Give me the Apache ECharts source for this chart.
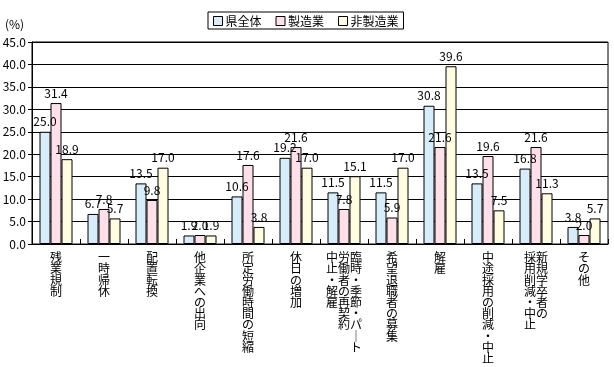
<!DOCTYPE html>
<html><head><meta charset="utf-8">
<script src="https://cdn.jsdelivr.net/npm/echarts@6/dist/echarts.min.js"></script>
<style>html,body{margin:0;padding:0;background:#fff}#c{width:614px;height:367px}</style>
</head><body><div id="c"></div>
<script>
// categories: each entry is a list of vertical columns, read right-to-left
const categories = [
  ["残業規制"],
  ["一時帰休"],
  ["配置転換"],
  ["他企業への出向"],
  ["所定労働時間の短縮"],
  ["休日の増加"],
  ["臨時・季節・パート", "労働者の再契約", "中止・解雇"],
  ["希望退職者の募集"],
  ["解雇"],
  ["中途採用の削減・中止"],
  ["新規学卒者の", "採用削減・中止"],
  ["その他"]
];
const seriesNames = ["県全体", "製造業", "非製造業"];
const kenZentai = [25.0, 6.7, 13.5, 1.9, 10.6, 19.2, 11.5, 11.5, 30.8, 13.5, 16.8, 3.8];
const seizogyo  = [31.4, 7.8, 9.8, 2.0, 17.6, 21.6, 7.8, 5.9, 21.6, 19.6, 21.6, 2.0];
const hiSeizogyo = [18.9, 5.7, 17.0, 1.9, 3.8, 17.0, 15.1, 17.0, 39.6, 7.5, 11.3, 5.7];
const yTicks = { min: 0, max: 45, interval: 5 };

const colors = ["#D7EDF9", "#FFDFE9", "#FFFCE0"];
const FONT = "'Noto Sans CJK JP', sans-serif";

function vertical(cols) {
  const n = Math.max(...cols.map(c => c.length));
  const rev = cols.slice().reverse();
  const lines = [];
  for (let i = 0; i < n; i++) {
    let s = "";
    for (const c of rev) {
      let ch = c[i] || "　";
      if (ch === "ー") ch = "｜";
      s += ch;
    }
    lines.push(s);
  }
  return lines.join("\n");
}
const catKeys = categories.map(c => c.join(""));
const catLabel = {};
categories.forEach(c => { catLabel[c.join("")] = vertical(c); });

const chart = echarts.init(document.getElementById('c'), null, { renderer: 'canvas' });
const data = [kenZentai, seizogyo, hiSeizogyo];
chart.setOption({
  animation: false,
  textStyle: { fontFamily: FONT },
  grid: { left: 32, right: 6, top: 42, bottom: 123, containLabel: false, outerBoundsMode: 'none',
          show: true, borderColor: '#000', borderWidth: 1, backgroundColor: 'transparent' },
  legend: {
    left: 208, top: 12, orient: 'horizontal',
    borderColor: '#000', borderWidth: 1, padding: [3, 5, 2, 5],
    itemWidth: 9, itemHeight: 9, itemGap: 14, icon: 'rect',
    textStyle: { fontSize: 12, color: '#000', fontFamily: FONT, padding: [0, 0, 0, -2] },
    itemStyle: { borderColor: '#000', borderWidth: 1 },
    data: seriesNames
  },
  graphic: [{ type: 'text', left: 5, top: 18, style: { text: '(%)', fontSize: 12, fill: '#000', fontFamily: FONT } }],
  xAxis: {
    type: 'category', data: catKeys,
    axisLine: { lineStyle: { color: '#000', width: 1 } },
    axisTick: { show: true, inside: true, length: 5, lineStyle: { color: '#000' } },
    axisLabel: {
      interval: 0, margin: 8, fontSize: 12, lineHeight: 11.2, color: '#000', fontFamily: FONT,
      verticalAlign: 'top', align: 'center', hideOverlap: false,
      formatter: v => catLabel[v]
    }
  },
  yAxis: {
    type: 'value', min: yTicks.min, max: yTicks.max, interval: yTicks.interval,
    axisLine: { show: true, lineStyle: { color: '#000' } },
    axisTick: { show: true, length: 4, lineStyle: { color: '#000' } },
    splitLine: { lineStyle: { color: '#000', width: 1 } },
    axisLabel: { formatter: v => v.toFixed(1), fontSize: 12, color: '#000', margin: 6, fontFamily: FONT }
  },
  series: seriesNames.map((name, i) => ({
    name, type: 'bar', data: data[i], barWidth: 11, barGap: '0%',
    itemStyle: { color: colors[i], borderColor: '#000', borderWidth: 1 },
    label: {
      show: true, position: 'top', distance: 4, fontSize: 12, color: '#000', fontFamily: FONT,
      formatter: p => p.value.toFixed(1)
    }
  }))
});
</script></body></html>
